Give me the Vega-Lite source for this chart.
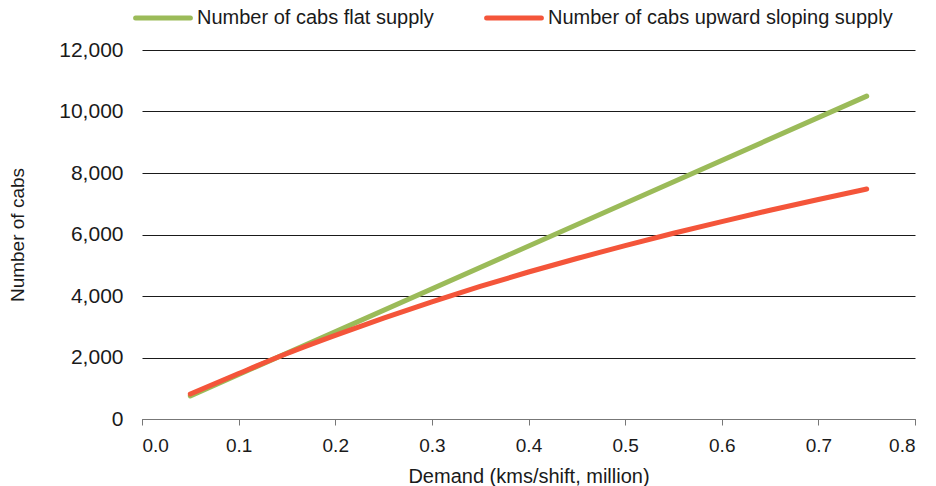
{
  "$schema": "https://vega.github.io/schema/vega-lite/v6.json",
  "width": 773,
  "height": 369,
  "autosize": {"type": "none"},
  "padding": {"left": 142, "top": 50, "right": 21, "bottom": 67},
  "background": "white",
  "config": {"view": {"stroke": null}},
  "data": {"values": [
    {"demand": 0.05, "cabs": 750, "series": "Number of cabs flat supply"},
    {"demand": 0.75, "cabs": 10500, "series": "Number of cabs flat supply"},
    {"demand": 0.05, "cabs": 815, "series": "Number of cabs upward sloping supply"},
    {"demand": 0.1, "cabs": 1480, "series": "Number of cabs upward sloping supply"},
    {"demand": 0.15, "cabs": 2130, "series": "Number of cabs upward sloping supply"},
    {"demand": 0.2, "cabs": 2720, "series": "Number of cabs upward sloping supply"},
    {"demand": 0.25, "cabs": 3280, "series": "Number of cabs upward sloping supply"},
    {"demand": 0.3, "cabs": 3810, "series": "Number of cabs upward sloping supply"},
    {"demand": 0.35, "cabs": 4310, "series": "Number of cabs upward sloping supply"},
    {"demand": 0.4, "cabs": 4780, "series": "Number of cabs upward sloping supply"},
    {"demand": 0.45, "cabs": 5220, "series": "Number of cabs upward sloping supply"},
    {"demand": 0.5, "cabs": 5640, "series": "Number of cabs upward sloping supply"},
    {"demand": 0.55, "cabs": 6040, "series": "Number of cabs upward sloping supply"},
    {"demand": 0.6, "cabs": 6420, "series": "Number of cabs upward sloping supply"},
    {"demand": 0.65, "cabs": 6790, "series": "Number of cabs upward sloping supply"},
    {"demand": 0.7, "cabs": 7140, "series": "Number of cabs upward sloping supply"},
    {"demand": 0.75, "cabs": 7480, "series": "Number of cabs upward sloping supply"}
  ]},
  "mark": {"type": "line", "strokeWidth": 5, "strokeCap": "round", "interpolate": "monotone"},
  "encoding": {
    "x": {
      "field": "demand", "type": "quantitative",
      "scale": {"domain": [0, 0.8], "nice": false},
      "axis": {
        "title": "Demand (kms/shift, million)",
        "values": [0, 0.1, 0.2, 0.3, 0.4, 0.5, 0.6, 0.7, 0.8],
        "format": ".1f",
        "grid": false,
        "domainColor": "#777777",
        "tickColor": "#777777",
        "tickSize": 6,
        "labelFont": "Liberation Sans",
        "labelFontSize": 19,
        "labelColor": "#1a1a1a",
        "labelPadding": 11,
        "titleFont": "Liberation Sans",
        "titleFontSize": 20,
        "titleFontWeight": "normal",
        "titleColor": "#1a1a1a",
        "titlePadding": 11
      }
    },
    "y": {
      "field": "cabs", "type": "quantitative",
      "scale": {"domain": [0, 12000], "nice": false},
      "axis": {
        "title": "Number of cabs",
        "values": [0, 2000, 4000, 6000, 8000, 10000, 12000],
        "format": ",d",
        "domain": false,
        "ticks": false,
        "grid": true,
        "gridColor": "#1a1a1a",
        "gridWidth": 1,
        "labelFont": "Liberation Sans",
        "labelFontSize": 21,
        "labelColor": "#1a1a1a",
        "labelPadding": 19,
        "titleFont": "Liberation Sans",
        "titleFontSize": 19,
        "titleFontWeight": "normal",
        "titleColor": "#1a1a1a",
        "titlePadding": 31
      }
    },
    "color": {
      "field": "series", "type": "nominal",
      "scale": {"domain": ["Number of cabs flat supply", "Number of cabs upward sloping supply"], "range": ["#9BBB59", "#F4553A"]},
      "legend": {
        "title": null,
        "orient": "none",
        "direction": "horizontal",
        "legendX": -9,
        "legendY": -62,
        "symbolType": "stroke",
        "symbolSize": 3000,
        "symbolStrokeWidth": 5,
        "labelFont": "Liberation Sans",
        "labelFontSize": 20,
        "labelColor": "#1a1a1a",
        "labelOffset": 4,
        "columnPadding": 42,
        "labelLimit": 500,
        "encode": {"symbols": {"update": {"strokeCap": {"value": "round"}}}}
      }
    }
  }
}
